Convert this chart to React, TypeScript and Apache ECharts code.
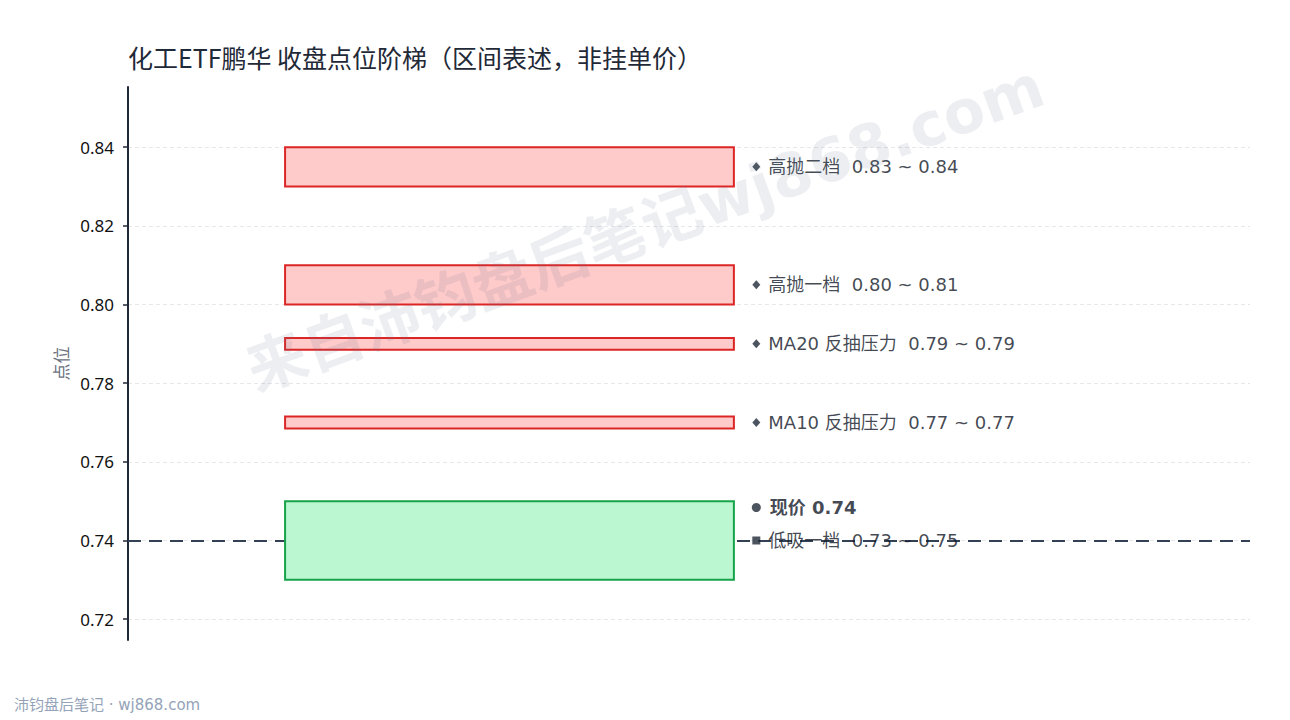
import React, { useEffect, useRef } from "react";
import * as echarts from "echarts";

// 区间数据（下沿 / 上沿）
const bandNames = ["高抛二档", "高抛一档", "MA20 反抽压力", "MA10 反抽压力", "低吸一档"];
const bandLow = [0.83, 0.8, 0.7885, 0.7685, 0.73];
const bandHigh = [0.84, 0.81, 0.7915, 0.7715, 0.75];
const bandKind = ["sell", "sell", "sell", "sell", "buy"];
const bandText = ["0.83 ~ 0.84", "0.80 ~ 0.81", "0.79 ~ 0.79", "0.77 ~ 0.77", "0.73 ~ 0.75"];
const currentPrice = 0.74;

const BAR_X0 = 0.14;
const BAR_X1 = 0.54;
const LABEL_X = 0.56;

const FONT = "'DejaVu Sans', 'Noto Sans CJK SC', sans-serif";
const CJK = "'Noto Sans CJK SC', sans-serif";

const App: React.FC = () => {
    const chartRef = useRef<HTMLDivElement>(null);

    useEffect(() => {
        document.body.style.margin = "0";
        const chart = echarts.init(chartRef.current, undefined, { renderer: "svg" });

        const rects = bandNames.map((n, i) => [BAR_X0, BAR_X1, bandLow[i], bandHigh[i], i]);
        const labels = bandNames.map((n, i) => ({
            value: [LABEL_X, (bandLow[i] + bandHigh[i]) / 2],
            symbol: bandKind[i] === "buy" ? "rect" : "diamond",
            symbolSize: bandKind[i] === "buy" ? 8 : [8, 9],
            label: { formatter: n + "  " + bandText[i] },
        }));

        const options: any = {
            animation: false,
            textStyle: { fontFamily: FONT },
            title: {
                text: "化工ETF鹏华 收盘点位阶梯（区间表述，非挂单价）",
                left: 123,
                top: 39,
                textStyle: { fontSize: 25, fontWeight: "normal", color: "#1f2937", fontFamily: CJK },
            },
            grid: { left: 128, right: 40, top: 87, bottom: 80 },
            xAxis: {
                type: "value",
                min: 0,
                max: 1,
                show: false,
            },
            yAxis: {
                type: "value",
                min: 0.7147,
                max: 0.8553,
                splitNumber: 7,
                minInterval: 0.02,
                maxInterval: 0.02,
                name: "点位",
                nameLocation: "middle",
                nameGap: 58,
                nameTextStyle: { color: "#6b7280", fontSize: 17, fontFamily: CJK },
                axisLine: { show: true, lineStyle: { color: "#1f2937", width: 2 } },
                axisTick: { show: true, length: 5, lineStyle: { color: "#1f2937", width: 1.5 } },
                axisLabel: {
                    color: "#111111",
                    fontSize: 17,
                    fontFamily: "'Noto Sans', sans-serif",
                    margin: 14,
                    showMinLabel: false,
                    showMaxLabel: false,
                    formatter: (v: number) => v.toFixed(2),
                },
                splitLine: {
                    show: true,
                    showMinLine: false,
                    showMaxLine: false,
                    lineStyle: { color: "#e5e7eb", type: [4, 3] },
                },
            },
            series: [
                {
                    type: "line",
                    data: [],
                    z: 1,
                    markLine: {
                        z: 1,
                        silent: true,
                        symbol: "none",
                        label: { show: false },
                        lineStyle: { color: "#334155", width: 2, type: [13, 8] },
                        data: [{ yAxis: currentPrice }],
                    },
                },
                {
                    type: "custom",
                    z: 2,
                    encode: { x: [0, 1], y: [2, 3] },
                    data: rects,
                    renderItem: (params: any, api: any) => {
                        const i = api.value(4);
                        const p1 = api.coord([api.value(0), api.value(3)]);
                        const p2 = api.coord([api.value(1), api.value(2)]);
                        const buy = bandKind[i] === "buy";
                        return {
                            type: "rect",
                            shape: { x: p1[0], y: p1[1], width: p2[0] - p1[0], height: p2[1] - p1[1] },
                            style: {
                                fill: buy ? "#bbf7d0" : "#fecaca",
                                stroke: buy ? "#16a34a" : "#dc2626",
                                lineWidth: 2,
                            },
                        };
                    },
                },
                {
                    type: "scatter",
                    z: 3,
                    itemStyle: { color: "#1f2937" },
                    label: {
                        show: true,
                        position: "right",
                        distance: 8,
                        color: "#111827",
                        fontSize: 18,
                    },
                    data: labels,
                },
                {
                    type: "scatter",
                    z: 3,
                    symbol: "circle",
                    symbolSize: 9,
                    symbolOffset: [0, -33],
                    itemStyle: { color: "#1f2937" },
                    label: {
                        show: true,
                        position: "right",
                        distance: 9,
                        color: "#111827",
                        fontSize: 18,
                        fontWeight: "bold",
                        formatter: "现价 " + currentPrice.toFixed(2),
                    },
                    data: [[LABEL_X, currentPrice]],
                },
            ],
            graphic: [
                {
                    type: "text",
                    x: 645,
                    y: 228,
                    rotation: 0.35,
                    z: 100,
                    silent: true,
                    style: {
                        text: "来自沛钧盘后笔记wj868.com",
                        fill: "rgba(100,116,139,0.12)",
                        fontSize: 60,
                        fontWeight: "bold",
                        fontFamily: FONT,
                        align: "center",
                        verticalAlign: "middle",
                    },
                },
                {
                    type: "text",
                    left: 14,
                    top: 697,
                    style: {
                        text: "沛钧盘后笔记 · wj868.com",
                        fill: "#94a3b8",
                        fontSize: 15,
                        fontFamily: FONT,
                    },
                },
            ],
        };

        chart.setOption(options);
        return () => {
            chart.dispose();
        };
    }, []);

    return <div ref={chartRef} style={{ width: 1290, height: 720 }}></div>;
};

export default App;
